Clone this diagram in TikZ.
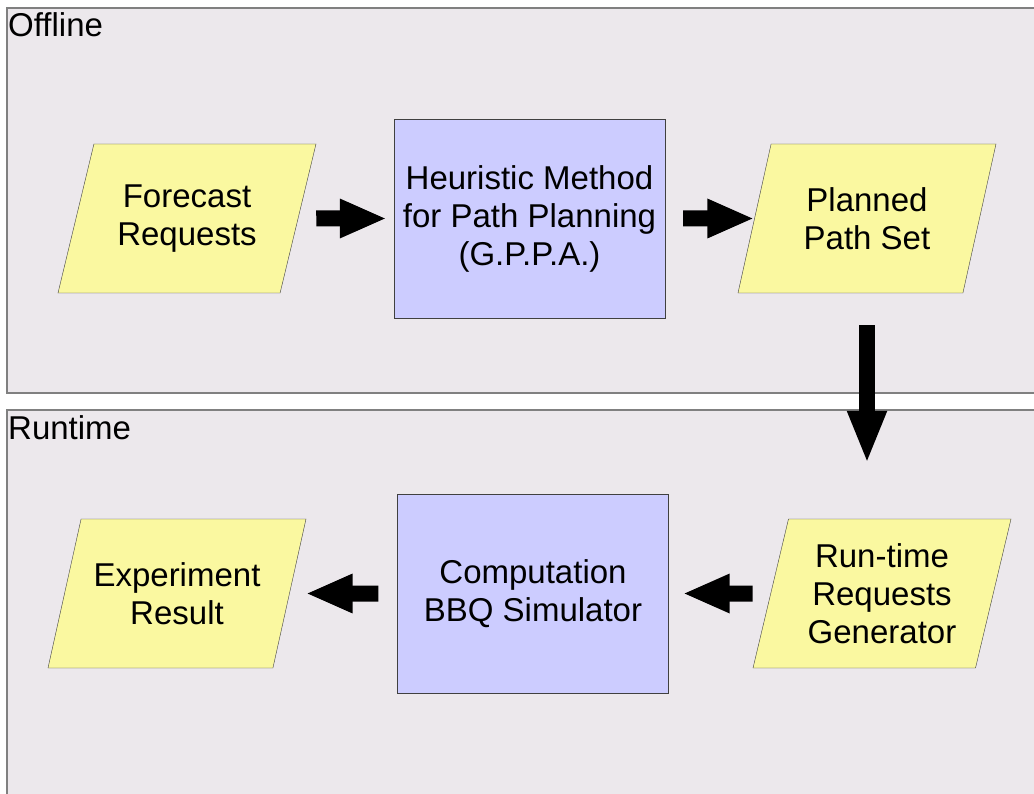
\documentclass[tikz,border=0pt]{standalone}
\usepackage{fontspec}
\setmainfont{Liberation Sans}
\usetikzlibrary{shapes.geometric,arrows.meta}
\definecolor{panelbg}{RGB}{236,232,236}
\definecolor{datafill}{RGB}{250,248,160}
\definecolor{procfill}{RGB}{204,204,255}
\tikzset{>=latex}
\tikzset{
  data/.style={trapezium,trapezium left angle=62,trapezium right angle=118,
    trapezium stretches body=true,minimum width=258,minimum height=149,
    fill=datafill,draw=black!75,align=center,inner sep=0pt,
    font=\fontsize{33}{38}\selectfont},
  proc/.style={rectangle,minimum width=271,minimum height=199,
    fill=procfill,draw=black!75,align=center,inner sep=0pt,
    font=\fontsize{33}{38}\selectfont},
  panel/.style={fill=panelbg,draw=black!50,line width=1.5},
  panellabel/.style={anchor=base west,inner sep=0pt,font=\fontsize{33}{38}\selectfont},
  bigarrow/.style={line width=16,-{Triangle[length=47pt,width=36pt]}},
}

\begin{document}
\begin{tikzpicture}[x=1pt,y=-1pt]
  \useasboundingbox (0,0) rectangle (1034,794);
  \clip (0,0) rectangle (1034,794);
  % the two parts
  \draw[panel] (7,8) rectangle (1045,393); % offline
  \draw[panel] (7,410) rectangle (1045,805); % runtime
  \node[panellabel] (offl) at (8,37) {Offline};
  \node[panellabel] (runt) at (8,439) {Runtime};
  % offline row
  \node[data] (fore) at (187,218.5) {Forecast\\Requests};
  \node[proc] (heur) at (529.5,218.5) {Heuristic Method\\for Path Planning\\(G.P.P.A.)};
  \node[data] (plan) at (867,218.5) {Planned\\Path Set};
  % runtime row
  \node[data] (expr) at (177,593.5) {Experiment\\Result};
  \node[proc] (comp) at (533,593.5) {Computation\\BBQ Simulator};
  \node[data,trapezium left angle=70.5,trapezium right angle=109.5] % three lines
    (gen) at (882,593.5) {Run-time\\Requests\\Generator};
  % block arrows
  \draw[bigarrow,shorten <=18,shorten >=7] (fore.east) -- (heur.west);
  \draw[bigarrow,shorten <=18,shorten >=0] (heur.east) -- (plan.west);
  \draw[bigarrow,-{Triangle[length=53pt,width=36pt]},shorten <=107,shorten >=55]
    (plan.center) -- (plan.center |- gen.north); % down to runtime
  \draw[bigarrow,shorten <=18,shorten >=14] (gen.west) -- (comp.east);
  \draw[bigarrow,shorten <=19,shorten >=16] (comp.west) -- (expr.east);
\end{tikzpicture}
\end{document}
